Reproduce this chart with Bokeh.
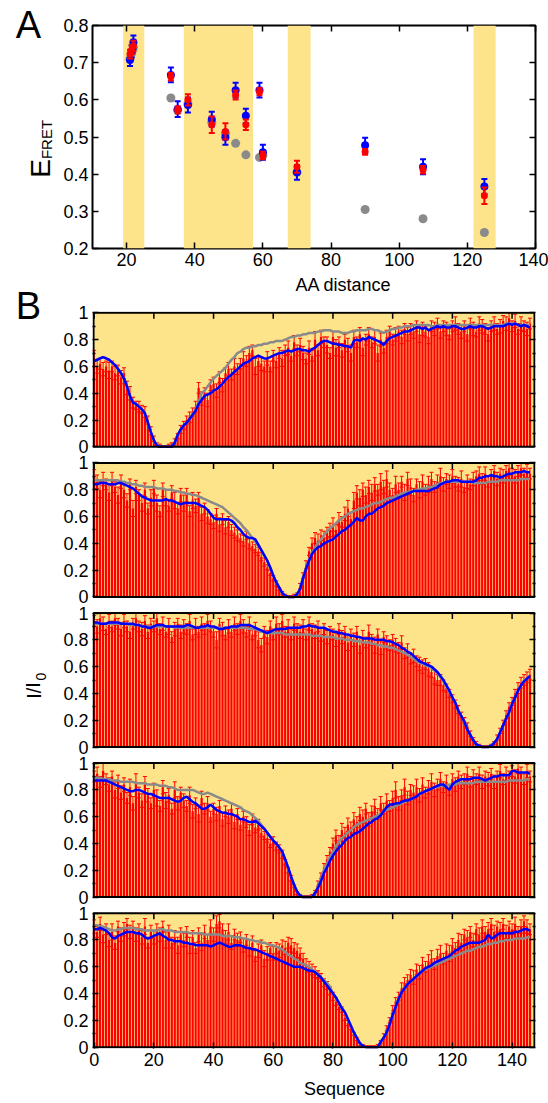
from bokeh.plotting import figure
from bokeh.models import (ColumnDataSource, BoxAnnotation, Label, LinearAxis,
                          FixedTicker, Range1d, CustomJSTickFormatter)
from bokeh.layouts import column, row
from bokeh.embed import file_html
from bokeh.resources import INLINE

FONT = "Liberation Sans"
YELLOW = "#FDE38A"
RED = "#FF0000"
BLUE = "#0000FF"
GRAY = "#8A8A8A"

# ---------------- Panel A data ----------------
a_dist = [21, 21.5, 22, 33, 35, 38, 45, 49, 52, 55, 59, 60, 70, 90, 107, 125]
a_gray = [0.71, 0.725, 0.74, 0.605, 0.572, 0.589, 0.54, 0.51, 0.483, 0.452, 0.445, 0.45, 0.405, 0.305, 0.28, 0.243]
a_blue = [0.707, 0.73, 0.755, 0.667, 0.575, 0.586, 0.548, 0.499, 0.626, 0.557, 0.626, 0.459, 0.405, 0.478, 0.42, 0.367]
a_blue_err = [0.016, 0.016, 0.018, 0.02, 0.021, 0.02, 0.02, 0.02, 0.02, 0.019, 0.02, 0.02, 0.02, 0.02, 0.02, 0.02]
a_red = [0.723, 0.735, 0.745, 0.662, 0.573, 0.6, 0.533, 0.515, 0.613, 0.533, 0.622, 0.45, 0.42, 0.46, 0.412, 0.342]
a_red_err = [0.012, 0.012, 0.014, 0.01, 0.01, 0.015, 0.022, 0.022, 0.012, 0.014, 0.01, 0.01, 0.016, 0.008, 0.01, 0.022]
band_start = [19.0, 36.8, 67.3, 121.8]
band_end = [25.2, 57.1, 74.0, 128.3]
a_xticks = [20, 40, 60, 80, 100, 120, 140]
a_yticks = [0.2, 0.3, 0.4, 0.5, 0.6, 0.7, 0.8]

# ---------------- Panel B data (values in percent) ----------------
sequence = list(range(147))
b_xticks = [0, 20, 40, 60, 80, 100, 120, 140]
b_yticks = [0, 0.2, 0.4, 0.6, 0.8, 1.0]
b_yminor = [0.1, 0.3, 0.5, 0.7, 0.9]

red1 = [66,60,62,58,60,57,60,55,57,52, 55,44,40,33,31,30,28,26,20,12, 6,2,1,0,0,1,2,4,8,13,
        16,20,22,26,30,44,36,40,35,46, 47,42,52,46,55,58,54,60,58,62, 66,64,70,72,60,64,62,60,66,60,
        68,64,70,66,72,74,68,78,72,76, 70,66,74,68,80,72,82,78,76,70, 82,74,78,72,80,76,70,82,78,84,
        74,80,84,78,82,70,80,74,82,86, 80,84,86,82,88,84,88,86,90,84, 88,86,82,90,88,92,86,90,88,84,
        90,92,88,86,90,84,92,88,86,92, 90,88,84,90,92,88,90,94,92,96, 90,94,88,92,90,88,92]
err1 = [6,5,4,5,4,6,4,5,4,5, 4,5,5,4,3,4,3,4,3,3, 2,1,1,1,1,1,1,2,2,3, 3,3,4,3,4,4,5,4,5,4,
        5,5,4,5,4,5,4,6,4,4, 5,4,5,4,6,4,5,4,5,4, 4,5,4,6,4,5,4,5,4,5, 5,4,5,4,6,4,5,4,6,4,
        4,6,4,5,4,5,6,5,4,5, 6,4,5,4,5,6,5,4,5,4, 4,5,4,5,4,5,4,5,4,6, 5,4,5,4,5,4,5,4,5,4,
        4,5,4,5,4,5,4,5,4,5, 5,4,5,4,5,4,5,4,5,4, 4,5,4,5,4,5,4]
blue1 = [64,65,66,67,66,65,63,61,58,55, 51,45,38,33,32,30,28,25,18,11, 5,1,0,0,0,0,0,3,9,13,
         16,18,21,24,27,32,35,38,39,40, 42,43,45,47,50,52,54,56,58,60, 62,63,64,66,67,68,67,66,66,67,
         68,69,70,70,71,72,71,72,73,73, 72,72,71,73,74,76,78,79,79,78, 77,77,76,76,75,75,74,79,80,79,
         81,80,82,81,80,79,78,76,79,81, 82,83,84,85,86,86,87,88,89,89, 88,89,87,88,89,90,89,90,89,89,
         90,90,89,88,88,89,90,89,89,90, 90,89,88,89,90,90,90,90,91,92, 91,92,91,90,91,90,89]
gray1 = [64,65,66,67,66,65,63,61,58,55, 51,45,38,33,32,30,28,25,18,11, 5,1,0,0,0,0,0,3,9,13,
         16,18,21,24,28,33,40,42,45,48, 51,53,55,57,59,62,65,67,70,71, 73,74,74,75,75,76,76,77,77,78,
         78,79,79,79,80,81,82,82,83,83, 84,84,85,85,85,86,86,87,87,87, 86,86,86,85,85,85,86,86,87,87,
         87,87,88,88,87,87,86,85,86,87, 88,88,89,89,90,90,90,91,91,91, 91,91,91,90,90,91,91,91,91,91,
         91,91,91,91,91,91,91,91,91,91, 91,91,91,91,91,91,91,91,92,92, 92,92,91,91,91,91,91]

red2 = [90,86,80,88,84,78,88,82,76,86, 80,72,84,66,82,76,70,80,66,74, 82,70,64,80,74,68,78,72,66,76,
        70,76,64,72,68,74,62,66,60,58, 56,62,54,58,52,56,50,48,46,44, 42,46,40,38,36,34,30,26,22,18,
        14,10,6,3,1,0,0,1,2,8, 16,24,34,40,44,42,46,44,48,50, 54,50,58,56,62,66,58,72,78,74,
        80,76,82,78,84,80,86,82,88,80, 76,84,80,86,78,88,82,76,84,80, 86,80,84,88,82,86,90,84,88,86,
        90,86,84,88,82,86,84,88,90,92, 88,92,86,90,94,88,92,90,94,96, 92,90,94,96,92,94,92]
err2 = [5,5,6,5,4,6,5,4,6,5, 6,5,4,6,5,4,6,5,4,6, 5,6,4,5,6,4,5,6,4,5, 6,5,4,6,5,4,5,4,5,4,
        5,4,5,4,5,4,4,4,4,3, 4,3,4,3,3,3,3,3,2,2, 2,2,1,1,1,1,1,1,1,2, 2,3,3,4,4,5,4,5,4,5,
        5,4,5,4,5,6,5,6,5,6, 5,6,5,6,5,4,6,5,6,5, 5,6,5,4,6,5,6,5,4,6, 5,4,6,5,4,5,6,5,4,5,
        5,4,5,6,4,5,4,5,4,5, 4,5,4,5,4,5,4,5,4,5, 4,5,4,5,4,5,4]
blue2 = [84,84,85,85,85,84,84,84,85,85, 84,83,82,81,79,77,75,74,73,72, 72,72,72,72,73,72,72,71,70,69,
         70,70,70,70,70,69,68,67,65,62, 59,58,58,58,58,58,57,55,52,50, 47,45,44,44,43,39,35,31,27,22,
         16,11,7,3,1,0,0,0,2,6, 14,21,27,32,35,37,38,40,41,42, 43,45,47,49,50,52,54,56,59,57,
         57,60,62,62,64,66,67,68,70,71, 72,73,74,75,76,77,78,79,79,79, 79,79,79,80,81,82,84,85,86,86,
         87,87,87,86,86,86,86,86,87,89, 89,90,90,91,90,90,89,90,91,92, 92,93,93,93,94,93,93]
gray2 = [87,87,87,87,87,87,87,87,87,86, 86,85,85,84,84,83,83,82,82,82, 82,81,81,81,80,80,80,79,79,78,
         78,77,77,76,76,75,74,73,72,71, 70,69,68,67,65,63,61,59,57,55, 52,50,47,44,41,38,35,31,27,22,
         16,11,7,3,1,0,0,0,2,6, 15,22,28,33,37,40,43,46,49,51, 53,55,57,59,60,62,63,64,65,66,
         66,67,68,69,70,70,71,72,73,74, 74,75,76,77,78,78,79,79,80,80, 81,81,82,82,83,84,85,85,86,86,
         86,86,86,86,86,86,86,85,85,85, 85,85,86,86,86,86,87,87,87,87, 87,87,87,88,88,88,88]

red3 = [94,90,96,92,88,94,90,96,92,88, 94,90,86,92,96,90,88,94,86,92, 90,96,88,92,86,90,82,88,92,86,
        90,88,94,84,90,86,92,88,94,90, 86,80,92,88,84,90,86,92,88,94, 90,86,92,84,88,80,76,86,82,90,
        84,92,88,94,86,90,84,92,88,86, 90,84,92,88,86,90,84,88,82,86, 84,80,88,82,86,78,84,80,86,76,
        82,78,86,80,76,84,74,82,78,76, 80,76,74,78,70,72,66,68,64,62, 60,62,58,56,52,50,50,46,44,40,
        36,32,28,24,20,16,10,6,3,1, 0,0,0,1,3,7,12,18,24,30, 34,40,44,48,50,52,54]
err3 = [4,5,4,5,4,5,4,5,4,5, 5,4,5,4,5,4,5,4,5,4, 4,5,4,5,4,6,4,5,4,5, 5,4,5,4,6,4,5,4,5,4,
        4,6,4,5,4,5,4,5,4,5, 5,4,5,4,5,6,5,4,5,4, 4,5,4,5,4,5,4,5,4,5, 5,4,5,4,5,4,5,4,5,4,
        4,5,4,5,4,6,4,5,4,6, 5,4,5,4,6,4,5,4,5,4, 4,5,4,5,4,5,4,5,4,5, 5,4,5,4,5,4,4,4,3,3,
        3,3,3,2,2,2,2,1,1,1, 1,1,1,1,1,2,2,2,3,3, 3,3,4,4,4,4,4]
blue3 = [93,93,92,92,92,93,93,93,93,92, 92,92,92,92,91,91,90,90,89,89, 90,91,91,91,90,90,90,90,90,90,
         90,91,91,90,89,89,90,90,91,90, 90,89,88,88,89,89,90,90,90,91, 91,91,91,90,89,88,87,86,85,86,
         87,88,88,88,88,89,89,89,89,89, 90,90,91,90,90,89,89,89,88,87, 86,86,85,85,84,84,83,83,82,82,
         81,81,81,81,80,80,80,80,79,79, 78,77,76,74,73,71,70,68,66,64, 63,62,61,60,58,56,53,50,46,42,
         37,33,27,23,19,13,9,5,2,1, 0,0,0,1,3,6,11,16,21,26, 32,37,42,46,49,51,53]
gray3 = [92,92,92,92,92,92,92,92,92,92, 92,92,91,91,91,91,90,90,90,90, 90,90,90,90,90,90,90,89,89,89,
         89,89,89,89,89,89,89,89,89,89, 89,89,89,89,89,89,89,89,89,89, 89,89,88,88,88,87,86,86,85,85,
         85,85,85,85,84,84,84,84,84,84, 84,84,84,83,83,83,83,82,82,82, 82,81,81,81,80,80,80,79,79,79,
         78,78,78,77,77,76,76,75,75,74, 74,73,72,71,70,69,67,66,64,63, 62,61,60,59,57,55,52,49,45,41,
         37,33,27,23,19,13,9,5,2,1, 0,0,0,1,3,6,11,16,21,26, 32,37,42,46,49,51,53]

red4 = [90,92,86,94,88,84,90,80,86,78, 84,74,82,70,86,78,72,84,76,70, 80,74,68,82,72,76,66,80,70,78,
        72,68,76,64,70,62,74,66,70,60, 66,62,68,58,64,60,66,56,62,54, 60,56,50,58,52,54,48,46,44,40,
        42,38,36,32,26,20,14,8,3,1, 0,0,0,1,4,10,16,22,28,34, 40,46,42,50,48,54,52,58,56,62,
        60,66,58,64,68,62,70,66,72,68, 74,80,70,76,82,74,80,78,82,76, 84,78,82,86,80,84,88,82,86,80,
        88,84,90,86,88,92,86,90,88,92, 86,90,88,92,86,90,94,88,92,90, 94,90,96,92,88,94,90]
err4 = [4,5,4,6,4,5,4,6,5,5, 5,4,6,5,6,4,5,6,5,4, 5,6,4,5,6,5,4,6,5,4, 5,4,6,5,4,6,5,4,5,4,
        4,5,4,5,4,5,4,5,4,4, 4,4,4,4,4,4,3,3,3,3, 3,3,3,3,2,2,2,1,1,1, 1,1,1,1,1,2,2,3,3,3,
        4,4,4,5,4,5,4,5,4,5, 5,4,5,4,5,4,5,4,5,4, 5,6,5,4,6,5,4,5,6,5, 5,4,5,6,5,4,5,4,5,4,
        4,5,4,5,4,5,4,5,4,5, 5,4,5,4,5,4,5,4,5,4, 4,5,4,5,4,5,4]
blue4 = [87,87,87,87,87,86,85,84,83,82, 81,80,79,79,80,80,79,78,77,77, 76,75,74,74,74,74,73,72,71,72,
         74,75,73,71,70,68,66,66,67,69, 67,65,64,63,63,62,62,61,60,58, 58,57,56,56,57,55,53,51,48,45,
         42,40,37,34,28,22,15,9,4,1, 0,0,0,0,3,7,12,18,22,27, 31,34,37,39,42,44,45,47,48,49,
         51,53,55,56,58,59,61,64,67,69, 69,70,70,71,72,72,73,74,75,77, 78,79,80,81,82,83,84,84,82,80,
         84,86,87,88,88,88,88,89,89,89, 88,87,88,89,90,90,91,91,91,91, 94,94,93,93,93,93,92]
gray4 = [89,89,89,88,88,88,87,87,87,86, 86,86,86,86,85,85,85,85,84,84, 84,84,83,83,83,82,82,81,80,80,
         80,80,80,80,79,78,77,77,78,77, 76,75,74,73,72,71,70,69,68,67, 65,64,63,61,59,57,54,51,48,45,
         42,40,37,34,28,22,15,9,4,1, 0,0,0,0,3,8,14,20,25,30, 34,38,41,44,46,48,50,52,54,55,
         56,57,58,59,60,61,62,64,65,66, 67,68,69,70,71,72,73,74,75,77, 78,79,80,81,82,82,83,83,83,84,
         84,84,85,85,85,85,85,85,86,86, 86,86,86,86,86,86,86,86,86,87, 87,87,87,87,87,88,88]

red5 = [90,86,92,84,88,80,86,78,90,84, 88,92,86,90,84,88,82,90,78,86, 82,88,84,90,80,86,78,82,76,84,
        80,86,76,82,74,84,78,86,80,90, 84,92,94,88,82,86,78,84,80,82, 76,80,74,78,68,72,76,66,70,74,
        70,74,72,76,74,78,76,74,72,70, 66,62,60,58,56,54,52,48,46,42, 38,34,30,28,22,18,14,10,6,2,
        1,0,0,0,0,1,4,8,14,20, 28,34,38,44,48,50,54,52,58,56, 62,60,64,66,62,68,70,66,72,70,
        76,74,80,78,84,82,86,80,88,84, 90,86,88,92,86,90,88,92,86,90, 88,92,86,90,94,90,88]
err5 = [5,4,5,6,4,5,6,5,4,5, 5,4,5,4,5,4,5,6,4,5, 5,4,5,4,6,5,4,5,6,5, 5,4,6,5,4,5,6,5,4,5,
        5,6,5,4,5,6,5,4,5,4, 5,4,6,5,4,5,4,6,5,4, 5,4,5,4,5,4,5,4,5,4, 4,4,4,4,4,3,3,3,3,3,
        3,3,2,2,2,2,1,1,1,1, 1,1,1,1,1,1,1,2,2,2, 3,3,3,4,4,4,4,5,4,5, 5,4,5,6,4,5,6,4,5,6,
        5,4,5,6,4,5,4,5,4,5, 5,4,5,4,5,4,5,4,5,4, 4,5,4,5,4,5,4]
blue5 = [88,88,89,88,87,85,82,81,83,84, 85,86,86,86,85,85,84,82,81,82, 83,84,85,83,82,80,80,79,79,79,
         78,78,77,77,76,76,76,76,76,75, 76,77,78,77,76,75,75,76,76,76, 75,74,74,73,73,72,71,70,69,68,
         67,66,65,64,63,62,61,60,60,60, 59,58,57,57,56,54,52,49,46,43, 40,37,33,29,26,21,16,11,7,3,
         1,0,0,0,0,0,4,7,11,17, 24,30,36,41,44,47,49,51,53,55, 57,59,60,61,63,64,65,66,67,68,
         70,72,73,75,76,77,78,78,78,78, 79,80,84,81,82,84,85,85,85,85, 85,86,86,87,88,88,87]
gray5 = [91,91,90,90,89,88,87,87,88,88, 89,89,89,89,88,88,88,87,87,87, 87,87,88,88,87,87,87,86,86,86,
         86,86,85,85,85,85,85,84,84,84, 84,84,84,83,83,83,83,82,82,82, 81,81,80,80,79,79,78,78,77,76,
         76,75,74,73,71,69,68,66,65,63, 62,61,60,58,56,54,52,50,48,45, 40,37,33,29,26,21,16,11,7,3,
         1,0,0,0,0,0,4,7,11,17, 24,30,36,41,44,47,49,51,53,55, 57,58,59,60,61,62,63,64,65,66,
         67,68,69,70,71,72,72,73,74,75, 75,76,77,77,78,78,79,79,80,80, 80,81,81,81,81,82,82]

panels_data = [(red1, err1, blue1, gray1), (red2, err2, blue2, gray2), (red3, err3, blue3, gray3),
               (red4, err4, blue4, gray4), (red5, err5, blue5, gray5)]
for grp in panels_data:
    for arr in grp:
        assert len(arr) == 147, len(arr)


def style_axis(ax, ticker, show_labels, size="18px"):
    ax.ticker = ticker
    ax.axis_line_color = None
    ax.major_tick_in = 6
    ax.major_tick_out = 0
    ax.minor_tick_in = 3
    ax.minor_tick_out = 0
    ax.major_tick_line_color = "black"
    ax.major_tick_line_width = 1.5
    ax.minor_tick_line_color = "black"
    ax.minor_tick_line_width = 1.5
    ax.major_label_text_font = FONT
    ax.major_label_text_color = "black"
    if show_labels:
        ax.major_label_text_font_size = size
        ax.major_label_standoff = 4
    else:
        ax.formatter = CustomJSTickFormatter(code="return ''")
        ax.major_label_text_font_size = "0px"
        ax.major_label_standoff = 0


def add_mirror(p, loc, ticks, minor):
    ax = LinearAxis()
    style_axis(ax, FixedTicker(ticks=ticks, minor_ticks=minor), False)
    p.add_layout(ax, loc)


def text_strip(w, h):
    # a bare figure whose frame is the whole canvas, used only to carry texts
    t = figure(width=w, height=h, x_range=Range1d(0, w), y_range=Range1d(0, h),
               output_backend="svg", toolbar_location=None,
               x_axis_location=None, y_axis_location=None, min_border=0)
    t.outline_line_color = None
    t.xgrid.visible = False
    t.ygrid.visible = False
    t.background_fill_color = "white"
    t.border_fill_color = "white"
    return t


def screen_label(p, x, y, text, size, angle=0.0):
    # screen units: relative to the frame's bottom-left corner, y upward
    p.add_layout(Label(x=x, y=y, x_units="screen", y_units="screen", text=text,
                       text_font=FONT, text_font_size=size, text_align="center",
                       text_baseline="middle", angle=angle, text_color="black"))


# ---------------- Figure A (right column, x from 60) ----------------
pA = figure(width=488, height=274, x_range=Range1d(10, 140), y_range=Range1d(0.2, 0.8),
            output_backend="svg", toolbar_location=None,
            min_border_left=28, min_border_right=13, min_border_top=25, min_border_bottom=26)
pA.outline_line_color = "black"
pA.outline_line_width = 2
pA.xgrid.visible = False
pA.ygrid.visible = False
pA.border_fill_color = "white"
style_axis(pA.xaxis[0], FixedTicker(ticks=a_xticks, minor_ticks=[]), True)
style_axis(pA.yaxis[0], FixedTicker(ticks=a_yticks, minor_ticks=[]), True)
add_mirror(pA, "above", a_xticks, [])
add_mirror(pA, "right", a_yticks, [])

for s, e in zip(band_start, band_end):
    pA.add_layout(BoxAnnotation(left=s, right=e, fill_color=YELLOW, fill_alpha=1.0,
                                line_color=None, level="underlay"))

srcA = ColumnDataSource(dict(
    x=a_dist, gray=a_gray, blue=a_blue, red=a_red,
    bup=[v + e for v, e in zip(a_blue, a_blue_err)], blo=[v - e for v, e in zip(a_blue, a_blue_err)],
    rup=[v + e for v, e in zip(a_red, a_red_err)], rlo=[v - e for v, e in zip(a_red, a_red_err)],
))
pA.scatter("x", "gray", source=srcA, marker="circle", size=9, fill_color=GRAY, line_color=None)
pA.segment("x", "blo", "x", "bup", source=srcA, line_color=BLUE, line_width=2)
pA.scatter("x", "bup", source=srcA, marker="dash", size=6, line_color=BLUE, line_width=2)
pA.scatter("x", "blo", source=srcA, marker="dash", size=6, line_color=BLUE, line_width=2)
pA.scatter("x", "blue", source=srcA, marker="circle", size=8, fill_color=BLUE, line_color=None)
pA.segment("x", "rlo", "x", "rup", source=srcA, line_color=RED, line_width=2)
pA.scatter("x", "rup", source=srcA, marker="dash", size=6, line_color=RED, line_width=2)
pA.scatter("x", "rlo", source=srcA, marker="dash", size=6, line_color=RED, line_width=2)
pA.scatter("x", "red", source=srcA, marker="circle", size=7, fill_color=RED, line_color=None)

# ---------------- Figure B: five stacked panels in one frame ----------------
NP = 5
PITCH = 1.12          # one panel (0..1) plus the white gap between panels
XL, XR = -0.2, 147.5  # panel edges on the sequence axis
pB = figure(width=488, height=780, x_range=Range1d(-0.55, 147.85), y_range=Range1d(-0.01, 5.49),
            output_backend="svg", toolbar_location=None,
            min_border_left=29, min_border_right=12, min_border_top=17, min_border_bottom=26)
pB.outline_line_color = None
pB.xgrid.visible = False
pB.ygrid.visible = False
pB.border_fill_color = "white"
pB.background_fill_color = "white"

bases = [(NP - 1 - k) * PITCH for k in range(NP)]
yt_major = [b + t for b in bases for t in b_yticks]
yt_minor = [b + t for b in bases for t in b_yminor]

style_axis(pB.xaxis[0], FixedTicker(ticks=b_xticks, minor_ticks=[]), True)
style_axis(pB.yaxis[0], FixedTicker(ticks=yt_major, minor_ticks=yt_minor), True)
pB.yaxis[0].formatter = CustomJSTickFormatter(code="""
    const P = 1.12;
    const k = Math.floor((tick + 1e-6) / P);
    const v = Math.round((tick - k * P) * 10) / 10;
    if (v < 0.05) return "0";
    if (v > 0.95) return "1";
    return v.toFixed(1);
""")
add_mirror(pB, "right", yt_major, yt_minor)

frame_src = ColumnDataSource(dict(left=[XL] * NP, right=[XR] * NP, bottom=bases,
                                  top=[b + 1 for b in bases]))
pB.quad(left="left", right="right", bottom="bottom", top="top", source=frame_src,
        fill_color=YELLOW, line_color=None)

tick_len = 6 / 134
tick_x, tick_y0, tick_y1 = [], [], []
for b in bases:
    for t in b_xticks:
        tick_x.append(t)
        tick_y0.append(b + 1)
        tick_y1.append(b + 1 - tick_len)

for k, (red, err, blue, gray) in enumerate(panels_data):
    b = bases[k]
    src = ColumnDataSource(dict(
        x=sequence,
        bottom=[b] * len(sequence),
        red=[b + v / 100 for v in red],
        up=[b + min((v + e) / 100, 1.0) for v, e in zip(red, err)],
        lo=[b + max((v - e) / 100, 0.0) for v, e in zip(red, err)],
        blue=[b + v / 100 for v in blue],
        gray=[b + v / 100 for v in gray],
    ))
    pB.vbar(x="x", top="red", bottom="bottom", width=0.75, source=src, fill_color=RED, line_color=None)
    pB.segment("x", "lo", "x", "up", source=src, line_color=RED, line_width=1)
    pB.scatter("x", "up", source=src, marker="dash", size=4, line_color=RED, line_width=1)
    pB.scatter("x", "lo", source=src, marker="dash", size=4, line_color=RED, line_width=1)
    pB.line("x", "gray", source=src, line_color=GRAY, line_width=2.5)
    pB.line("x", "blue", source=src, line_color=BLUE, line_width=2.5)

pB.segment(x0=tick_x, y0=tick_y0, x1=tick_x, y1=tick_y1, line_color="black", line_width=1.5)
pB.quad(left="left", right="right", bottom="bottom", top="top", source=frame_src,
        fill_color=None, line_color="black", line_width=2)

# ---------------- text strips ----------------
LA = text_strip(60, 280)      # page y 0..280, x 0..60
screen_label(LA, 28, 256, "A", "38px")
screen_label(LA, 40, 112, "E", "28px", angle=1.5708)
screen_label(LA, 46, 141, "FRET", "15px", angle=1.5708)

LB = text_strip(60, 823)      # page y 280..1103, x 0..60
screen_label(LB, 28, 798, "B", "38px")
screen_label(LB, 33, 413, "I/I", "20px", angle=1.5708)
screen_label(LB, 40, 427, "0", "14px", angle=1.5708)

TA = text_strip(488, 20)      # page y 274..294, x 60..548
screen_label(TA, 251, 10, "AA distance", "18px")

TB = text_strip(488, 29)      # page y 1074..1103, x 60..548
screen_label(TB, 252, 15, "Sequence", "18px")

left_col = column(LA, LB, spacing=0)
right_col = column(pA, TA, pB, TB, spacing=0)
layout = row(left_col, right_col, spacing=0)
open("out.html", "w").write(file_html(layout, INLINE))
